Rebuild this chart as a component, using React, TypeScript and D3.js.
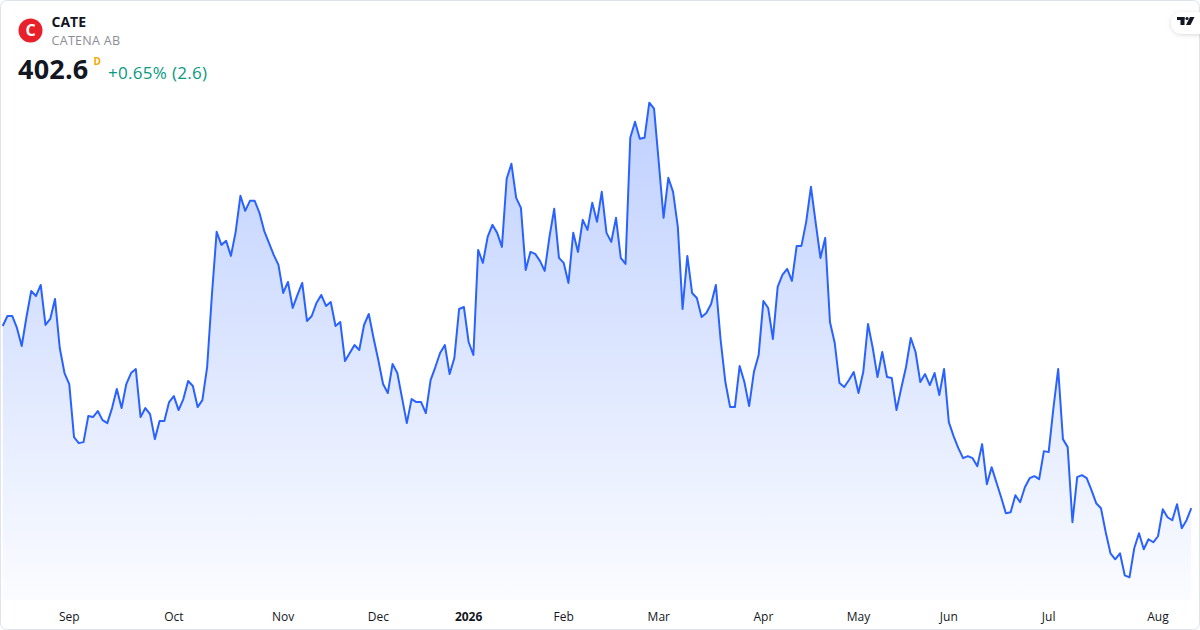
import React, { useEffect } from 'react';
import * as d3 from 'd3';

// daily closes, Aug 2025 -> Aug 2026
const closes: number[] = [
  420.8, 421.8, 421.8, 420.6, 418.8, 421.7, 424.3, 423.8, 424.9, 420.9,
  421.5, 423.5, 418.6, 416.1, 415.0, 409.7, 409.1, 409.2, 411.8, 411.7,
  412.3, 411.4, 411.1, 412.6, 414.5, 412.6, 415.0, 416.1, 416.5, 411.7,
  412.6, 412.0, 409.5, 411.3, 411.3, 413.2, 413.8, 412.4, 413.5, 415.3,
  414.8, 412.7, 413.4, 416.7, 423.9, 430.2, 428.9, 429.3, 427.8, 430.2,
  433.8, 432.3, 433.3, 433.3, 432.1, 430.3, 429.1, 427.9, 426.9, 424.1,
  425.2, 422.6, 423.9, 425.1, 421.3, 421.8, 423.1, 423.9, 422.8, 423.2,
  420.8, 421.2, 417.3, 418.1, 418.9, 418.4, 420.9, 422.0, 419.6, 417.4,
  415.0, 414.1, 417.0, 416.1, 413.6, 411.1, 413.5, 413.2, 413.2, 412.1,
  415.4, 416.7, 418.1, 418.9, 416.0, 417.6, 422.5, 422.7, 419.2, 417.9,
  428.4, 427.1, 429.7, 430.9, 430.1, 428.7, 435.5, 437.0, 433.6, 432.6,
  426.4, 428.2, 428.0, 427.3, 426.3, 429.7, 432.5, 427.6, 427.1, 425.1,
  430.1, 428.2, 431.4, 430.4, 433.1, 431.2, 434.2, 430.1, 429.2, 431.6,
  427.6, 427.0, 439.6, 441.2, 439.5, 439.6, 443.1, 442.5, 437.1, 431.6,
  435.6, 434.2, 430.7, 422.5, 427.8, 424.1, 423.6, 421.7, 422.1, 423.0,
  424.9, 419.4, 415.2, 412.7, 412.7, 416.8, 415.2, 412.8, 416.2, 417.9,
  423.3, 422.6, 419.5, 424.7, 425.9, 426.5, 425.3, 428.8, 428.8, 431.2,
  434.7, 431.1, 427.6, 429.6, 421.2, 419.1, 415.1, 414.7, 415.4, 416.2,
  414.1, 416.2, 421.0, 418.6, 415.7, 418.2, 415.7, 415.6, 412.4, 414.6,
  416.7, 419.6, 418.2, 415.2, 416.0, 414.9, 416.1, 413.9, 416.5, 411.2,
  409.8, 408.6, 407.6, 407.8, 407.6, 406.8, 409.0, 405.0, 406.7, 405.2,
  403.7, 402.1, 402.2, 403.9, 403.2, 404.7, 405.6, 405.8, 405.5, 408.3,
  408.2, 412.6, 416.5, 409.5, 408.7, 401.2, 405.7, 405.9, 405.6, 404.4,
  403.1, 402.6, 400.2, 398.1, 397.5, 398.1, 395.9, 395.7, 398.6, 400.1,
  398.5, 399.5, 399.2, 399.8, 402.5, 401.7, 401.4, 403.0, 400.6, 401.4,
  402.6,
];

// first bar of each month
const monthLabels = ['Sep', 'Oct', 'Nov', 'Dec', '2026', 'Feb', 'Mar', 'Apr', 'May', 'Jun', 'Jul', 'Aug'];
const monthStarts = [14, 36, 59, 79, 98, 118, 138, 160, 180, 199, 220, 243];

const symbol = 'CATE';
const company = 'CATENA AB';
const lastPrice = '402.6';
const interval = 'D';
const change = '+0.65% (2.6)';

const W = 1200;
const H = 630;
const FONT = '"Open Sans", "Noto Sans", sans-serif';

const App: React.FC = () => {
  useEffect(() => {
    document.body.style.margin = '0';
  }, []);

  const x = d3.scaleLinear().domain([0, closes.length - 1]).range([2.7, 1191.3]);
  const [lo, hi] = d3.extent(closes) as [number, number];
  const y = d3.scaleLinear().domain([lo, hi]).range([577.3, 102.7]);
  const baseY = 600;

  const line = d3.line<number>()
    .x((_, i) => x(i))
    .y(d => y(d));
  const area = d3.area<number>()
    .x((_, i) => x(i))
    .y0(baseY)
    .y1(d => y(d));

  return (
    <svg width={W} height={H} style={{ display: 'block' }} fontFamily={FONT}>
      <defs>
        <linearGradient id="fillGrad" gradientUnits="userSpaceOnUse" x1="0" y1={y(hi)} x2="0" y2={baseY}>
          <stop offset="0" stopColor="#2962ff" stopOpacity={0.3} />
          <stop offset="1" stopColor="#2962ff" stopOpacity={0.02} />
        </linearGradient>
        <clipPath id="plotClip">
          <rect x={1} y={1} width={W - 2} height={H - 2} rx={6} />
        </clipPath>
        <filter id="pillShadow" x="-50%" y="-50%" width="200%" height="200%">
          <feDropShadow dx="0" dy="1" stdDeviation="2" floodColor="#000" floodOpacity="0.15" />
        </filter>
      </defs>

      <rect x={0.5} y={0.5} width={W - 1} height={H - 1} rx={6} fill="#fff" stroke="#e0e3eb" />

      <g clipPath="url(#plotClip)">
        <path d={area(closes) ?? ''} fill="url(#fillGrad)" />
        <path d={line(closes) ?? ''} fill="none" stroke="#2962ff" strokeWidth={2} strokeLinejoin="round" />
      </g>

      {monthLabels.map((m, i) => (
        <text
          key={m}
          x={x(monthStarts[i])}
          y={621}
          textAnchor="middle"
          fontSize={12}
          fill="#131722"
          fontWeight={m === '2026' ? 700 : 400}
        >
          {m}
        </text>
      ))}

      {/* header */}
      <circle cx={30.5} cy={30.5} r={12} fill="#e8202a" />
      <text x={30.5} y={36} textAnchor="middle" fontSize={16} fontWeight={700} fill="#fff">C</text>
      <text x={51.5} y={26.5} fontSize={14} fontWeight={700} fill="#131722">{symbol}</text>
      <text x={51.5} y={45} fontSize={12.5} fill="#8a8d96" letterSpacing={0.3}>{company}</text>
      <text x={18} y={79} fontSize={27} fontWeight={700} fill="#131722" letterSpacing={0.2}>{lastPrice}</text>
      <text x={93.5} y={65} fontSize={10} fontWeight={700} fill="#f7a600">{interval}</text>
      <text x={108} y={79} fontSize={17} fill="#089981" letterSpacing={0.3}>{change}</text>

      {/* TradingView badge */}
      <rect x={1171} y={12} width={40} height={22} rx={11} fill="#fff" filter="url(#pillShadow)" />
      <g fill="#131722">
        <rect x={1177} y={17} width={7.5} height={3} />
        <rect x={1180.5} y={17} width={4} height={8} />
        <circle cx={1187} cy={18.5} r={1.6} />
        <path d="M1190,17 L1194.5,17 L1190.5,25 L1186,25 Z" />
      </g>
    </svg>
  );
};

export default App;
